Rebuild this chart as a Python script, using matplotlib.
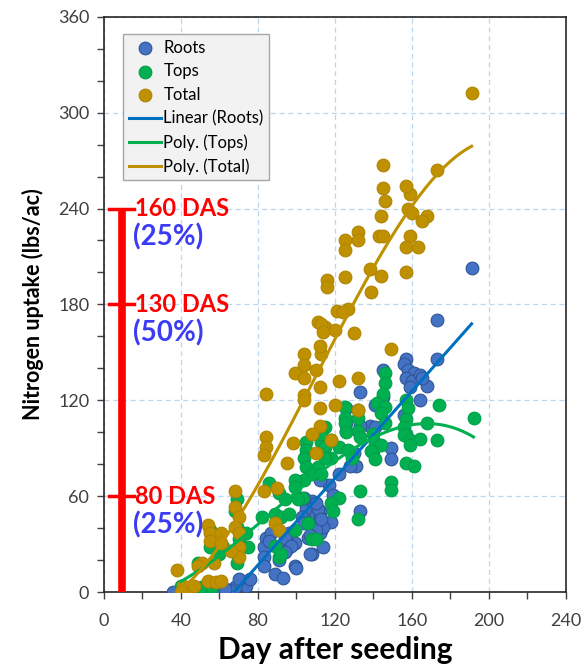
#!/usr/bin/env python3
import matplotlib
matplotlib.use("Agg")
import matplotlib.pyplot as plt
import numpy as np

plt.rcParams['font.family'] = ['Lato', 'DejaVu Sans']

# Roots N uptake (day, lbs/ac)
roots_day = [191, 173, 173, 157, 156, 158, 161, 157, 160, 164, 168, 164, 159, 165, 156,
             145, 133, 145, 141, 138, 141, 133, 131, 149, 149,
             126, 126, 126, 130, 128, 122, 117, 112, 112, 111, 113, 118, 133, 112,
             84, 83, 83, 83, 89, 87, 86, 95, 99, 99,
             104, 105, 108, 103, 106, 110, 112, 114, 110, 106, 108, 114, 96, 94,
             119, 111, 113, 104, 110, 104, 107, 97, 94, 107, 100, 91, 93,
             71, 74, 68, 65, 60, 55, 50, 45, 40, 36, 63, 70, 76]
roots_n = [203, 170, 146, 146, 143, 139, 137, 134, 132, 136, 129, 120, 128, 134, 111,
           139, 125, 122, 117, 104, 103, 104, 79, 90, 83,
           115, 106, 101, 87, 79, 74, 67, 70, 51, 47, 39, 44, 51, 37,
           34, 28, 22, 16, 11, 37, 32, 27, 31, 16,
           57, 52, 57, 47, 44, 49, 47, 41, 39, 34, 24, 28, 37, 34,
           61, 52, 46, 59, 56, 43, 36, 29, 25, 24, 15, 20, 9,
           6, 4, 3, 1, 0, 0, 0, 0, 0, 0, 2, 8, 8]

# Tops N uptake
tops_day = [192, 174, 173, 168,
            157, 158, 157, 156, 157, 156, 159, 164, 159, 157, 161,
            146, 146, 145, 142, 146, 144, 146, 140, 141, 140, 144,
            149, 149, 133, 132,
            125, 125, 125, 126, 132, 132, 132, 133,
            115, 118, 113, 122, 127, 129, 118, 111,
            122, 118, 119, 139, 141,
            105, 105, 104, 105, 108, 113, 104, 99, 113, 115, 115,
            86, 91, 99, 94, 103, 89, 92, 96, 101, 82,
            89, 91, 99, 108,
            69, 68, 69, 70, 69, 69,
            55, 55, 49, 62, 60, 75, 74,
            40, 45, 51, 56,
            106, 110, 92]
tops_n = [109, 117, 95, 106,
          120, 115, 108, 103, 99, 98, 95, 96, 92, 81, 79,
          137, 131, 124, 118, 116, 112, 106, 99, 93, 88, 92,
          69, 64, 63, 46,
          116, 109, 106, 100, 114, 109, 101, 97,
          103, 95, 94, 91, 89, 84, 84, 78,
          59, 56, 51, 88, 83,
          94, 89, 84, 78, 74, 74, 70, 70, 99, 91, 84,
          68, 62, 66, 58, 59, 49, 47, 49, 58, 47,
          29, 22, 39, 33,
          58, 51, 41, 33, 24, 18,
          39, 28, 18, 28, 24, 28, 37,
          4, 3, 3, 3,
          43, 33, 24]

# Total N uptake
total_day = [191, 173, 168, 165,
             159, 158, 160, 157, 159, 157, 163, 157,
             145, 145, 146, 144, 143, 145, 144, 138, 139, 149,
             132, 132, 132, 132, 130, 125, 125, 125,
             121, 127, 124, 116, 116,
             111, 115, 120, 113, 112,
             122, 112, 112, 120, 112, 118, 113, 114,
             104, 104, 99, 104, 110, 84, 104, 104,
             84, 84, 83, 98, 95, 110, 108,
             83, 90, 89, 91,
             68, 68, 70, 68, 70, 70, 70,
             54, 55, 55, 61, 61, 66, 51, 49, 57, 38,
             54, 58, 61, 41, 44, 47, 40]
total_n = [312, 264, 235, 232,
           249, 240, 237, 254, 223, 216, 216, 200,
           267, 253, 245, 235, 223, 223, 198, 202, 188, 152,
           225, 220, 134, 114, 162, 220, 214, 197,
           176, 177, 175, 195, 191,
           169, 166, 164, 149, 154,
           132, 128, 115, 117, 104, 95, 168, 163,
           149, 142, 137, 134, 139, 124, 123, 120,
           97, 91, 86, 93, 81, 87, 99,
           63, 65, 43, 39,
           63, 53, 47, 41, 37, 28, 22,
           42, 37, 32, 37, 31, 26, 18, 16, 18, 14,
           7, 6, 7, 4, 3, 4, 0]

# DAS markers on the red bar
das_levels = [240, 180, 60]
das_labels = ['160 DAS', '130 DAS', '80 DAS']
pct_labels = ['(25%)', '(50%)', '(25%)']

fig = plt.figure(figsize=(5.84, 6.69), dpi=100)
ax = fig.add_axes([0.178, 0.115, 0.791, 0.86])

c_roots, c_tops, c_total = '#4472C4', '#00B050', '#BF9000'
ax.scatter(roots_day, roots_n, s=84, color=c_roots, edgecolors='#2F5597',
           linewidths=0.8, zorder=3, label='Roots')
ax.scatter(tops_day, tops_n, s=84, color=c_tops, edgecolors='#00A04A',
           linewidths=0.8, zorder=3, label='Tops')
ax.scatter(total_day, total_n, s=84, color=c_total, edgecolors='#B08500',
           linewidths=0.8, zorder=3, label='Total')

# trendlines fitted from the points
for xs, ys, deg, col, lab in [(roots_day, roots_n, 1, '#0070C0', 'Linear (Roots)'),
                              (tops_day, tops_n, 3, c_tops, 'Poly. (Tops)'),
                              (total_day, total_n, 3, c_total, 'Poly. (Total)')]:
    coef = np.polyfit(xs, ys, deg)
    xx = np.linspace(min(xs), max(xs), 200)
    ax.plot(xx, np.polyval(coef, xx), color=col, lw=2.2, zorder=4, label=lab)

# red bar with caps
bar_x = 9.5
ax.plot([bar_x, bar_x], [0, max(das_levels)], color='red', lw=5.5,
        solid_capstyle='butt', zorder=5)
for lev, dl, pl in zip(das_levels, das_labels, pct_labels):
    ax.plot([2.5, 15.5], [lev, lev], color='red', lw=2.5, zorder=5)
    ax.text(16, lev, dl, color='red', fontsize=17, fontweight='bold',
            va='center', ha='left', zorder=6)
    ax.text(15, lev - 18, pl, color='#3B3BF5', fontsize=20, fontweight='bold',
            va='center', ha='left', zorder=6)

ax.set_xlim(0, 240)
ax.set_ylim(0, 360)
ax.set_xticks(np.arange(0, 241, 40))
ax.set_yticks(np.arange(0, 361, 60))
ax.set_xticks(np.arange(0, 241, 20), minor=True)
ax.set_yticks(np.arange(0, 361, 20), minor=True)
ax.tick_params(which='both', direction='out', length=5, width=1,
               labelsize=13, labelcolor='#404040', color='#404040')
ax.tick_params(axis='x', which='major', pad=10)
ax.tick_params(axis='y', which='major', pad=5.5)
ax.grid(True, which='major', ls=(0, (4, 3)), color='#BDD7EE', lw=0.9)
ax.set_axisbelow(True)
for sp in ax.spines.values():
    sp.set_color('#262626')
    sp.set_linewidth(1.2)

ax.set_xlabel('Day after seeding', fontsize=21.5, fontweight='bold', labelpad=5)
ax.set_ylabel('Nitrogen uptake (lbs/ac)', fontsize=15.5, fontweight='bold', labelpad=10)

leg = ax.legend(loc='upper left', bbox_to_anchor=(0.042, 0.97), borderaxespad=0,
                fontsize=12, frameon=True, fancybox=False, framealpha=1,
                facecolor='#F2F2F2', edgecolor='#A6A6A6', handlelength=1.9,
                handletextpad=0.15, labelspacing=0.45, borderpad=0.35,
                markerscale=1.0)
leg.set_zorder(10)

fig.savefig('out.png', dpi=100)
